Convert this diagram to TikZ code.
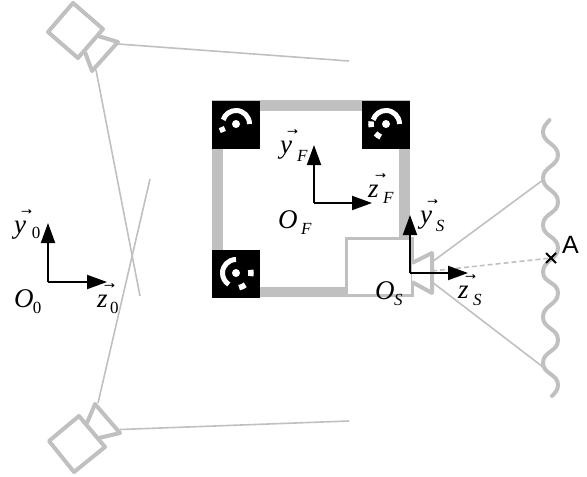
\documentclass[tikz,border=0pt]{standalone}
\usepackage{fontspec}
\setmainfont{Liberation Serif}
\newfontfamily\sansA{Liberation Sans}
\usetikzlibrary{arrows.meta}
\definecolor{lightgrey}{HTML}{C0C0C0}
% #1 letter, #2 subscript, #3 gap before the subscript, #4 drop of the subscript
\newcommand{\lab}[4]{#1\kern#3pt\raisebox{-#4pt}{\fontsize{17}{17}\selectfont #2}}
\newcommand{\vecletter}[1]{\rlap{\raisebox{19pt}{\kern4.5pt\fontsize{16}{16}\selectfont\addfontfeature{FakeBold=0.6}→}}\textit{#1}}
\tikzset{
  x=1pt,y=-1pt,
  frame/.style={fill=lightgrey,draw=none},
  tag/.style={fill=black,draw=none},
  dot/.style={fill=white,draw=none},
  ring/.style={draw=white,line width=5pt},
  camera/.style={draw=lightgrey,line width=4pt,line join=round,fill=white},
  ray/.style={draw=lightgrey,line width=1.6pt},
  axis/.style={draw=black,line width=2pt,-{Triangle[length=20pt,width=14pt]}},
  main/.style={anchor=base west,inner sep=0pt,outer sep=0pt,font=\fontsize{27}{27}\selectfont},
}
\newcommand{\marker}[2]{%
  \fill[tag] (#1,#2) ++(-24,-23) rectangle ++(48,48);
  \fill[dot] (#1,#2) circle (4);
}
\begin{document}
\begin{tikzpicture}
\useasboundingbox (0,0) rectangle (587,477);
% rays
\draw[ray] (118,44) -- (349,61);
\draw[ray] (96,70) -- (140,296);
\draw[ray] (150,179) -- (98,403);
\draw[ray] (120,429.5) -- (349,421);
\draw[ray] (432,262) -- (543,180);
\draw[ray] (432,282) -- (543,367);
\draw[ray,dash pattern=on 5pt off 3pt] (432,271) -- (551,258);
% top camera
\draw[camera] (98,36) -- (118,42) -- (92,71) -- (85,52);
\draw[camera] (73,3) -- (103,29) -- (78,58) -- (48,32) -- cycle;
% bottom camera
\draw[camera] (87,423) -- (95,404) -- (120,433) -- (99,438);
\draw[camera] (79,416) -- (105,447) -- (74,472) -- (49,441) -- cycle;
% plate
\fill[frame] (212,100) rectangle (410,111);
\fill[frame] (212,100) rectangle (223,298);
\fill[frame] (399,100) rectangle (410,240);
\fill[frame] (212,287) rectangle (350,297);
\marker{236}{124}
\marker{386}{124}
\marker{236}{273}
% top-left marker
\draw[ring] (236,124) ++(0:13.5) arc[start angle=0,end angle=-162,radius=13.5];
\draw[ring,line width=5.5pt] (236,124) ++(-192:15) arc[start angle=-192,end angle=-212,radius=15];
% top-right marker
\draw[ring] (386,124) ++(0:13.5) arc[start angle=0,end angle=-162,radius=13.5];
\draw[ring,line width=5.5pt] (386,124) ++(-170:15) arc[start angle=-170,end angle=-192,radius=15];
\draw[ring,line width=5.5pt] (386,124) ++(-222:14) arc[start angle=-222,end angle=-248,radius=14];
% bottom-left marker
\draw[ring] (236,273) ++(-90:13.5) arc[start angle=-90,end angle=-238,radius=13.5];
\draw[ring,line width=5.5pt] (236,273) ++(12:15) arc[start angle=12,end angle=-12,radius=15];
\draw[ring,line width=5.5pt] (236,273) ++(78:15) arc[start angle=78,end angle=52,radius=15];
% sensor
\draw[draw=lightgrey,line width=3pt,fill=white] (346,238) rectangle (412,295);
\draw[camera] (412,263) -- (432,253) -- (432,293) -- (412,282);
% surface
\draw[draw=lightgrey,line width=4pt,line cap=round]
  (549.5,120) .. controls (546,124) and (543,127) .. (543,132)
  .. controls (543,143) and (558,144) .. (558,155)
  .. controls (558,166) and (543,167) .. (543,178)
  .. controls (543,190) and (558,190) .. (558,202)
  .. controls (558,214) and (543,213) .. (543,225)
  .. controls (543,237) and (558,236) .. (558,248)
  .. controls (558,260) and (543,260) .. (543,272)
  .. controls (543,283) and (558,282) .. (558,293)
  .. controls (558,305) and (543,305) .. (543,317)
  .. controls (543,329) and (558,328) .. (558,340)
  .. controls (558,352) and (543,351) .. (543,363)
  .. controls (543,374) and (558,374) .. (558,385)
  .. controls (558,390) and (555,393) .. (552,396);
% point A
\coordinate (pA) at (551,258);
\draw[black,line width=1.8pt] (pA) ++(-5,-5) -- ++(10,10) (pA) ++(-5,5) -- ++(10,-10);
\node[anchor=base west,inner sep=0pt,font=\sansA\fontsize{25}{25}\selectfont] (labelA) at (562,253) {A};
% axes
\coordinate (oF) at (314,203);
\coordinate (oFy) at (314,145);
\coordinate (oFz) at (372,203);
\coordinate (oS) at (410,273);
\coordinate (oSy) at (410,215);
\coordinate (oSz) at (468,273);
\coordinate (o0) at (48,282);
\coordinate (o0y) at (48,223);
\coordinate (o0z) at (107,282);
\draw[axis] (oF) -- (oFy);
\draw[axis] (oF) -- (oFz);
\draw[axis] (oS) -- (oSy);
\draw[axis] (oS) -- (oSz);
\draw[axis] (o0) -- (o0y);
\draw[axis] (o0) -- (o0z);
% labels
\node[main] (yF) at (280,153) {\lab{\vecletter{y}}{\textit{F}}{5}{8}};
\node[main] (zF) at (368,197) {\lab{\vecletter{z}}{\textit{F}}{4.5}{6}};
\node[main] (OF) at (278,228) {\lab{\textit{O}}{\textit{F}}{3.5}{6}};
\node[main] (OS) at (375,299) {\lab{\textit{O}}{\textit{S}}{-0.5}{6}};
\node[main] (yS) at (420,223) {\lab{\vecletter{y}}{\textit{S}}{4}{8}};
\node[main] (zS) at (458,298) {\lab{\vecletter{z}}{\textit{S}}{4.5}{7}};
\node[main] (y0) at (14,233) {\lab{\vecletter{y}}{0}{6}{5}};
\node[main] (z0) at (97,307) {\lab{\vecletter{z}}{0}{2.5}{6}};
\node[main] (O0) at (14,307) {\lab{\textit{O}}{0}{-0.5}{6}};
\end{tikzpicture}
\end{document}
